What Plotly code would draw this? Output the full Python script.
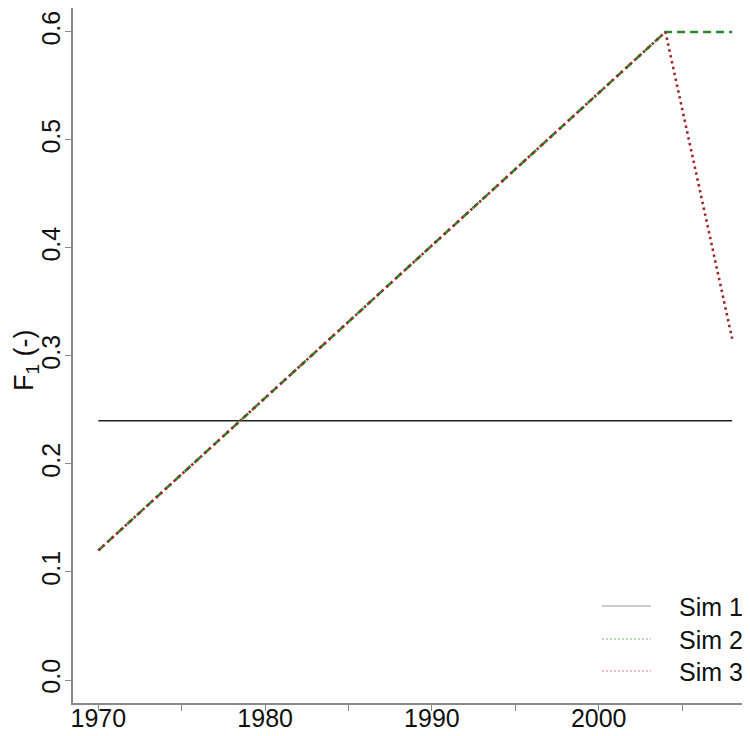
import plotly.graph_objects as go

# Data
years = [1970, 2004, 2008]
sim1 = [0.24, 0.24, 0.24]
sim2 = [0.12, 0.60, 0.60]
sim3 = [0.12, 0.60, 0.316]

x_ticks = [1970, 1975, 1980, 1985, 1990, 1995, 2000, 2005]
x_ticktext = ["1970", "", "1980", "", "1990", "", "2000", ""]
y_ticks = [0.0, 0.1, 0.2, 0.3, 0.4, 0.5, 0.6]
y_ticktext = ["0.0", "0.1", "0.2", "0.3", "0.4", "0.5", "0.6"]
legend_names = ["Sim 1", "Sim 2", "Sim 3"]

FONT = "Liberation Sans, Arial, sans-serif"
AX = "#8a8a8a"

# The page body adds an 8px offset; geometry below is in window pixels.
OFF = 8
L, T, W, H = 73, 8, 677, 695   # plot area in window pixels
FW, FH = 750, 736


def px(xp):
    return (xp - L) / W


def py(yp):
    return (T + H - yp) / H


fig = go.Figure()

fig.add_trace(go.Scatter(x=years, y=sim1, mode="lines", showlegend=False,
                         line=dict(color="#222222", width=1.6, dash="solid")))
fig.add_trace(go.Scatter(x=years, y=sim2, mode="lines", showlegend=False,
                         line=dict(color="#2a8a2a", width=2.6, dash="8px,5px")))
fig.add_trace(go.Scatter(x=years, y=sim3, mode="lines", showlegend=False,
                         line=dict(color="#a02828", width=2.6, dash="2.5px,3.5px")))

fig.update_layout(
    width=FW, height=FH,
    margin=dict(l=L - OFF, r=FW - (L - OFF) - W, t=T - OFF,
                b=FH - (T - OFF) - H, autoexpand=False),
    paper_bgcolor="white", plot_bgcolor="white",
    font=dict(family=FONT, size=25, color="#111111"),
    showlegend=False,
    xaxis=dict(range=[1968.48, 2009.07], showgrid=False, zeroline=False,
               showline=True, linecolor=AX, linewidth=1.5, mirror=True,
               ticks="outside", ticklen=6, tickcolor=AX, tickwidth=1.2,
               tickvals=x_ticks, ticktext=x_ticktext, automargin=False,
               tickfont=dict(size=25), ticklabelstandoff=-14),
    yaxis=dict(range=[-0.0213, 0.6222], showgrid=False, zeroline=False,
               showline=True, linecolor=AX, linewidth=1.5, mirror=False,
               ticks="outside", ticklen=6, tickcolor=AX, tickwidth=1.2,
               tickvals=y_ticks, ticktext=y_ticktext, tickangle=-90,
               automargin=False, tickfont=dict(size=25), ticklabelstandoff=-5),
)

# Legend drawn as in the reference (faded thin sample lines)
leg_styles = [dict(color="#9a9a9a", width=1.2, dash="solid"),
              dict(color="#9fd09f", width=1.3, dash="2px,2px"),
              dict(color="#e8a8b0", width=1.3, dash="2px,2px")]
leg_rows = [606, 639, 671]
for name, st, yr in zip(legend_names, leg_styles, leg_rows):
    fig.add_shape(type="line", xref="paper", yref="paper",
                  x0=px(602), x1=px(651), y0=py(yr), y1=py(yr), line=st)
    fig.add_annotation(text=name, xref="paper", yref="paper",
                       x=px(677), y=py(yr + 1), xanchor="left", yanchor="middle",
                       showarrow=False, font=dict(size=25, family=FONT, color="#111111"))

fig.add_annotation(text="F<sub>1</sub> (-)", xref="paper", yref="paper",
                   x=px(26), y=py(360),
                   xanchor="center", yanchor="middle", textangle=-90,
                   showarrow=False, font=dict(size=27, family=FONT, color="#111111"))

fig.write_html("out.html")
